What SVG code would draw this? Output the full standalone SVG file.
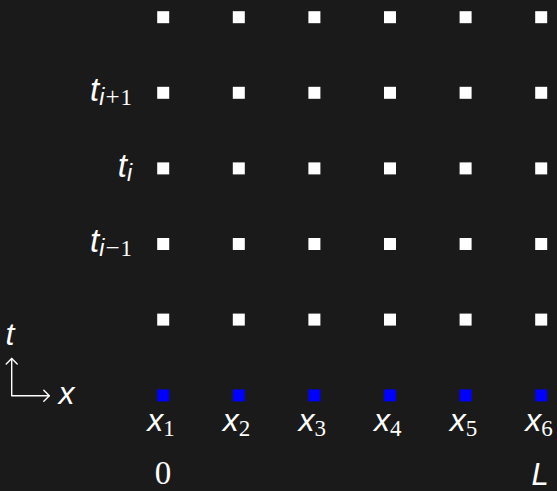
<svg xmlns="http://www.w3.org/2000/svg" width="557" height="491" viewBox="0 0 557 491">
<style>
.bg{fill:#1a1a1a}
.p{fill:#ffffff}
.b{fill:#0000ff}
.ax{fill:none;stroke:#ffffff;stroke-width:1.4;stroke-linecap:round;stroke-linejoin:round}
text{fill:#ffffff}
</style>
<rect class="bg" x="0" y="0" width="557" height="491"/>
<g id="row6">
<rect class="p" x="157.2" y="11.2" width="12" height="12"/>
<rect class="p" x="232.8" y="11.2" width="12" height="12"/>
<rect class="p" x="308.4" y="11.2" width="12" height="12"/>
<rect class="p" x="384" y="11.2" width="12" height="12"/>
<rect class="p" x="459.6" y="11.2" width="12" height="12"/>
<rect class="p" x="535.2" y="11.2" width="12" height="12"/>
</g>
<g id="row5">
<rect class="p" x="157.2" y="86.8" width="12" height="12"/>
<rect class="p" x="232.8" y="86.8" width="12" height="12"/>
<rect class="p" x="308.4" y="86.8" width="12" height="12"/>
<rect class="p" x="384" y="86.8" width="12" height="12"/>
<rect class="p" x="459.6" y="86.8" width="12" height="12"/>
<rect class="p" x="535.2" y="86.8" width="12" height="12"/>
</g>
<g id="row4">
<rect class="p" x="157.2" y="162.4" width="12" height="12"/>
<rect class="p" x="232.8" y="162.4" width="12" height="12"/>
<rect class="p" x="308.4" y="162.4" width="12" height="12"/>
<rect class="p" x="384" y="162.4" width="12" height="12"/>
<rect class="p" x="459.6" y="162.4" width="12" height="12"/>
<rect class="p" x="535.2" y="162.4" width="12" height="12"/>
</g>
<g id="row3">
<rect class="p" x="157.2" y="238" width="12" height="12"/>
<rect class="p" x="232.8" y="238" width="12" height="12"/>
<rect class="p" x="308.4" y="238" width="12" height="12"/>
<rect class="p" x="384" y="238" width="12" height="12"/>
<rect class="p" x="459.6" y="238" width="12" height="12"/>
<rect class="p" x="535.2" y="238" width="12" height="12"/>
</g>
<g id="row2">
<rect class="p" x="157.2" y="313.6" width="12" height="12"/>
<rect class="p" x="232.8" y="313.6" width="12" height="12"/>
<rect class="p" x="308.4" y="313.6" width="12" height="12"/>
<rect class="p" x="384" y="313.6" width="12" height="12"/>
<rect class="p" x="459.6" y="313.6" width="12" height="12"/>
<rect class="p" x="535.2" y="313.6" width="12" height="12"/>
</g>
<g id="row1">
<rect class="b" x="157.2" y="389.4" width="12" height="12"/>
<rect class="b" x="232.8" y="389.4" width="12" height="12"/>
<rect class="b" x="308.4" y="389.4" width="12" height="12"/>
<rect class="b" x="384" y="389.4" width="12" height="12"/>
<rect class="b" x="459.6" y="389.4" width="12" height="12"/>
<rect class="b" x="535.2" y="389.4" width="12" height="12"/>
</g>
<g id="row-labels" font-family="'Liberation Sans', Arial, sans-serif">
<text x="132" y="100.5" text-anchor="end"><tspan font-style="italic" font-size="33">t</tspan><tspan font-style="italic" font-size="23" dy="4.5">i</tspan><tspan font-family="'Liberation Serif', serif" font-size="25" dx="1">+</tspan><tspan font-family="'Liberation Serif', serif" font-size="23" dx="1">1</tspan></text>
<text x="132" y="176.5" text-anchor="end"><tspan font-style="italic" font-size="33">t</tspan><tspan font-style="italic" font-size="23" dy="4.5">i</tspan></text>
<text x="132" y="251.5" text-anchor="end"><tspan font-style="italic" font-size="33">t</tspan><tspan font-style="italic" font-size="23" dy="4.5">i</tspan><tspan font-family="'Liberation Serif', serif" font-size="25" dx="1">−</tspan><tspan font-family="'Liberation Serif', serif" font-size="23" dx="1">1</tspan></text>
</g>
<g id="col-labels" font-family="'Liberation Sans', Arial, sans-serif">
<text x="161" y="430.5" text-anchor="middle"><tspan font-style="italic" font-size="32">x</tspan><tspan font-family="'Liberation Serif', serif" font-size="23" dy="5">1</tspan></text>
<text x="236.6" y="430.5" text-anchor="middle"><tspan font-style="italic" font-size="32">x</tspan><tspan font-family="'Liberation Serif', serif" font-size="23" dy="5">2</tspan></text>
<text x="312.2" y="430.5" text-anchor="middle"><tspan font-style="italic" font-size="32">x</tspan><tspan font-family="'Liberation Serif', serif" font-size="23" dy="5">3</tspan></text>
<text x="387.8" y="430.5" text-anchor="middle"><tspan font-style="italic" font-size="32">x</tspan><tspan font-family="'Liberation Serif', serif" font-size="23" dy="5">4</tspan></text>
<text x="463.4" y="430.5" text-anchor="middle"><tspan font-style="italic" font-size="32">x</tspan><tspan font-family="'Liberation Serif', serif" font-size="23" dy="5">5</tspan></text>
<text x="539" y="430.5" text-anchor="middle"><tspan font-style="italic" font-size="32">x</tspan><tspan font-family="'Liberation Serif', serif" font-size="23" dy="5">6</tspan></text>
<text x="163" y="484" font-size="33" text-anchor="middle" font-family="'Liberation Serif', serif">0</text>
<text x="540" y="484.5" font-size="31" font-style="italic" text-anchor="middle">L</text>
</g>
<g id="axes">
<path class="ax" d="M11.7,358.5 L11.7,395.7 L49.3,395.7"/>
<path class="ax" d="M6.2,364 L11.7,358.5 L17.2,364"/>
<path class="ax" d="M43.8,390.2 L49.3,395.7 L43.8,401.2"/>
<text x="5.5" y="345" font-size="32" font-style="italic" font-family="'Liberation Sans', Arial, sans-serif">t</text>
<text x="58.5" y="404" font-size="32" font-style="italic" font-family="'Liberation Sans', Arial, sans-serif">x</text>
</g>
</svg>
